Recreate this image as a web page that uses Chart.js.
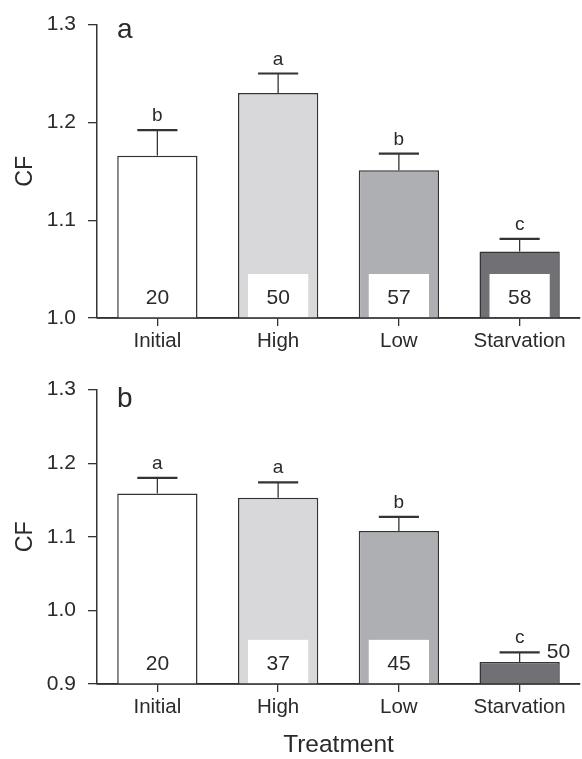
<!DOCTYPE html>
<html>
<head>
<meta charset="utf-8">
<script src="https://cdn.jsdelivr.net/npm/chart.js@4.4.0/dist/chart.umd.min.js"></script>
<style>
  html, body { margin: 0; padding: 0; background: #fff; }
  #wrap { position: relative; width: 582px; height: 759px; }
  .panel { position: absolute; left: 0; width: 582px; }
</style>
</head>
<body>
<div id="wrap">
  <div class="panel" style="top:0;height:365px"><canvas id="chartA"></canvas></div>
  <div class="panel" style="top:365px;height:394px"><canvas id="chartB"></canvas></div>
</div>
<script>
// Condition factor (CF) by feeding treatment, mean + SE
const treatments = ['Initial', 'High', 'Low', 'Starvation'];

// Panel a
const meanA = [1.166, 1.230, 1.151, 1.068];
const seA = [0.026, 0.020, 0.017, 0.013];
const groupsA = ['b', 'a', 'b', 'c'];
const nA = [20, 50, 57, 58];
const ticksA = [1.0, 1.1, 1.2, 1.3];

// Panel b
const meanB = [1.159, 1.153, 1.108, 0.930];
const seB = [0.021, 0.021, 0.019, 0.013];
const groupsB = ['a', 'a', 'b', 'c'];
const nB = [20, 37, 45, 50];
const ticksB = [0.9, 1.0, 1.1, 1.2, 1.3];

const barFills = ['#ffffff', '#d8d8da', '#aeafb2', '#717075'];
const INK = '#2a2a2a';
const LINE = '#333333';
const FONT = '"Liberation Sans", Arial, Helvetica, sans-serif';

// Error bars, group letters, sample sizes and panel letter
function annotations(means, se, groups, n, panel, panelDrop) {
  return {
    id: 'annotate',
    afterDatasetsDraw(chart) {
      const { ctx, chartArea } = chart;
      const y = chart.scales.y;
      const meta = chart.getDatasetMeta(0);
      const base = y.getPixelForValue(y.min);
      const boxH = 0.15 * (y.bottom - y.top);
      ctx.save();
      meta.data.forEach((bar, i) => {
        const barTop = y.getPixelForValue(means[i]);
        const capY = y.getPixelForValue(means[i] + se[i]);
        const half = bar.width / 4;
        // whisker and cap
        ctx.strokeStyle = LINE;
        ctx.lineWidth = 1.3;
        ctx.beginPath();
        ctx.moveTo(bar.x, barTop);
        ctx.lineTo(bar.x, capY);
        ctx.stroke();
        ctx.lineWidth = 2.2;
        ctx.beginPath();
        ctx.moveTo(bar.x - half, capY);
        ctx.lineTo(bar.x + half, capY);
        ctx.stroke();
        // group letter
        ctx.fillStyle = INK;
        ctx.font = '19px ' + FONT;
        ctx.textAlign = 'center';
        ctx.textBaseline = 'alphabetic';
        ctx.fillText(groups[i], bar.x, capY - 9);
        // sample size: in a white box inside tall bars, beside the cap otherwise
        ctx.font = '21px ' + FONT;
        ctx.textBaseline = 'middle';
        const label = String(n[i]);
        if (base - barTop > boxH + 10) {
          const bw = bar.width * 0.75;
          ctx.fillStyle = '#ffffff';
          ctx.fillRect(bar.x - bw / 2, base - boxH, bw, boxH - 1);
          ctx.fillStyle = INK;
          ctx.textAlign = 'center';
          ctx.fillText(label, bar.x, base - 20);
        } else {
          ctx.fillStyle = INK;
          ctx.textAlign = 'left';
          ctx.fillText(label, bar.x + half + 7, capY);
        }
      });
      // baseline drawn over bar bottoms
      ctx.strokeStyle = LINE;
      ctx.lineWidth = 1.5;
      ctx.beginPath();
      ctx.moveTo(chartArea.left, chartArea.bottom);
      ctx.lineTo(chartArea.right, chartArea.bottom);
      ctx.stroke();
      // panel letter
      ctx.fillStyle = INK;
      ctx.font = '28px ' + FONT;
      ctx.textAlign = 'left';
      ctx.textBaseline = 'alphabetic';
      ctx.fillText(panel, chartArea.left + 20, chartArea.top + panelDrop);
      ctx.restore();
    }
  };
}

function makeChart(id, means, se, groups, n, ticks, panel, opts) {
  return new Chart(document.getElementById(id), {
    type: 'bar',
    data: {
      labels: treatments,
      datasets: [{
        data: means,
        backgroundColor: barFills,
        borderColor: LINE,
        borderWidth: 1.5,
        barPercentage: 0.665,
        categoryPercentage: 1.0
      }]
    },
    plugins: [annotations(means, se, groups, n, panel, opts.panelDrop)],
    options: {
      responsive: true,
      maintainAspectRatio: false,
      animation: false,
      devicePixelRatio: 1,
      layout: { padding: { top: opts.padTop, right: 2, left: 0, bottom: 0 } },
      plugins: {
        legend: { display: false },
        tooltip: { enabled: false }
      },
      scales: {
        x: {
          type: 'category',
          afterFit: s => { s.height = opts.xHeight; },
          grid: { display: true, offset: false, drawOnChartArea: false, tickLength: 8, color: LINE, lineWidth: 1.3 },
          border: { display: true, color: LINE, width: 1.5 },
          ticks: { color: INK, font: { family: FONT, size: 20.5, lineHeight: 1.2 }, padding: 3, maxRotation: 0 },
          title: {
            display: opts.xTitle,
            text: 'Treatment',
            color: INK,
            font: { family: FONT, size: 24.5, lineHeight: 1 },
            padding: { top: 1.5, bottom: 1.5 }
          }
        },
        y: {
          type: 'linear',
          min: ticks[0],
          max: ticks[ticks.length - 1],
          afterFit: s => { s.width = 97; },
          afterBuildTicks: s => { s.ticks = ticks.map(v => ({ value: v })); },
          grid: { display: true, drawOnChartArea: false, tickLength: 9, color: LINE, lineWidth: 1.3 },
          border: { display: true, color: LINE, width: 1.5 },
          ticks: {
            color: INK,
            font: { family: FONT, size: 21 },
            padding: 12,
            callback: v => Number(v).toFixed(1)
          },
          title: {
            display: true,
            text: 'CF',
            color: INK,
            font: { family: FONT, size: 23.3, lineHeight: 1 },
            padding: { top: 14, bottom: 14 }
          }
        }
      }
    }
  });
}

makeChart('chartA', meanA, seA, groupsA, nA, ticksA, 'a', { padTop: 14, xHeight: 47, xTitle: false, panelDrop: 13.5 });
makeChart('chartB', meanB, seB, groupsB, nB, ticksB, 'b', { padTop: 16, xHeight: 75, xTitle: true, panelDrop: 17 });
</script>
</body>
</html>
